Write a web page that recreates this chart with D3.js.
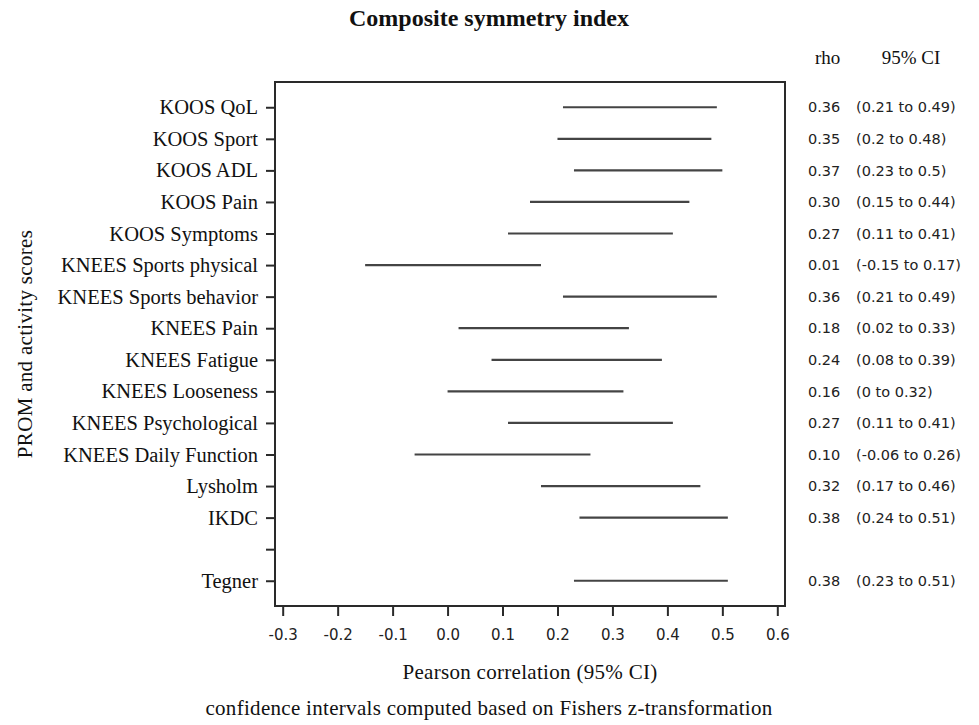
<!DOCTYPE html>
<html><head><meta charset="utf-8">
<script src="https://cdn.jsdelivr.net/npm/d3@7"></script>
<style>
body{margin:0;background:#fff;}
svg{display:block;}
</style></head>
<body>
<script>
const labels = ["KOOS QoL","KOOS Sport","KOOS ADL","KOOS Pain","KOOS Symptoms","KNEES Sports physical","KNEES Sports behavior","KNEES Pain","KNEES Fatigue","KNEES Looseness","KNEES Psychological","KNEES Daily Function","Lysholm","IKDC","","Tegner"];
const rho   = [0.36,0.35,0.37,0.30,0.27,0.01,0.36,0.18,0.24,0.16,0.27,0.10,0.32,0.38,null,0.38];
const lower = [0.21,0.2,0.23,0.15,0.11,-0.15,0.21,0.02,0.08,0,0.11,-0.06,0.17,0.24,null,0.23];
const upper = [0.49,0.48,0.5,0.44,0.41,0.17,0.49,0.33,0.39,0.32,0.41,0.26,0.46,0.51,null,0.51];
const xTicks = [-0.3,-0.2,-0.1,0.0,0.1,0.2,0.3,0.4,0.5,0.6];
const xDomain = [-0.314, 0.614];
const title = "Composite symmetry index";
const xTitle = "Pearson correlation (95% CI)";
const yTitle = "PROM and activity scores";
const footnote = "confidence intervals computed based on Fishers z-transformation";
const colHeaders = ["rho","95% CI"];

const W = 979, H = 725;
const L = 275, R = 785, T = 82, B = 606;
const serif = "'Liberation Serif','Times New Roman',serif";
const sans = "'DejaVu Sans',Verdana,sans-serif";
const ink = "#2a2a2a";

const svg = d3.select("body").append("svg").attr("width", W).attr("height", H);

const x = d3.scaleLinear().domain(xDomain).range([L, R]);
const idx = labels.map((d,i)=>i);
const y = d3.scalePoint().domain(idx).range([T, B]).padding(0.8);

// title
svg.append("text").attr("x", 489).attr("y", 26).attr("text-anchor","middle")
  .attr("font-family", serif).attr("font-weight","bold").attr("font-size", 24)
  .attr("fill","#111").text(title);

// box
svg.append("rect").attr("x", L).attr("y", T).attr("width", R-L).attr("height", B-T)
  .attr("fill","none").attr("stroke", ink).attr("stroke-width", 2);

// x axis
const fmt1 = d3.format(".1f");
const xAxis = svg.append("g").attr("transform", `translate(0,${B})`)
  .call(d3.axisBottom(x).tickValues(xTicks).tickFormat(d => fmt1(d).replace("\u2212","-")).tickSize(10).tickPadding(13));
xAxis.select(".domain").remove();
xAxis.selectAll(".tick line").attr("stroke", ink).attr("stroke-width", 2);
xAxis.selectAll(".tick text").attr("font-family", sans).attr("font-size", 15).attr("fill","#222");

// y axis
const yAxis = svg.append("g").attr("transform", `translate(${L},0)`)
  .call(d3.axisLeft(y).tickFormat(i => labels[i]).tickSize(9).tickPadding(8));
yAxis.select(".domain").remove();
yAxis.selectAll(".tick line").attr("stroke", ink).attr("stroke-width", 2);
yAxis.selectAll(".tick text").attr("font-family", serif).attr("font-size", 20.5).attr("fill","#111");

// CI lines
const rows = idx.filter(i => lower[i] !== null);
svg.append("g").selectAll("line").data(rows).join("line")
  .attr("x1", i => x(lower[i])).attr("x2", i => x(upper[i]))
  .attr("y1", i => y(i)).attr("y2", i => y(i))
  .attr("stroke", "#444").attr("stroke-width", 2.2);

// right columns
svg.append("text").attr("x", 815).attr("y", 64).attr("font-family", serif).attr("font-size", 19)
  .attr("fill","#111").text(colHeaders[0]);
svg.append("text").attr("x", 911).attr("y", 64).attr("text-anchor","middle").attr("font-family", serif)
  .attr("font-size", 19).attr("fill","#111").text(colHeaders[1]);

const fmt2 = d3.format(".2f");
const rcol = svg.append("g");
rcol.selectAll("text.rho").data(rows).join("text").attr("class","rho")
  .attr("x", 808).attr("y", i => y(i)).attr("dy","0.36em")
  .attr("font-family", sans).attr("font-size", 14.5).attr("fill","#222")
  .text(i => fmt2(rho[i]));
rcol.selectAll("text.ci").data(rows).join("text").attr("class","ci")
  .attr("x", 856).attr("y", i => y(i)).attr("dy","0.36em")
  .attr("font-family", sans).attr("font-size", 14.5).attr("fill","#222")
  .text(i => `(${lower[i]} to ${upper[i]})`);

// axis titles
svg.append("text").attr("x", (L+R)/2).attr("y", 679).attr("text-anchor","middle")
  .attr("font-family", serif).attr("font-size", 21).attr("letter-spacing", 0.3).attr("fill","#111").text(xTitle);
svg.append("text").attr("x", 489).attr("y", 715).attr("text-anchor","middle")
  .attr("font-family", serif).attr("font-size", 21).attr("letter-spacing", 0.3).attr("fill","#111").text(footnote);
svg.append("text").attr("transform", `translate(32,${(T+B)/2}) rotate(-90)`).attr("text-anchor","middle")
  .attr("font-family", serif).attr("font-size", 21).attr("letter-spacing", 0.3).attr("fill","#111").text(yTitle);
</script>
</body></html>
